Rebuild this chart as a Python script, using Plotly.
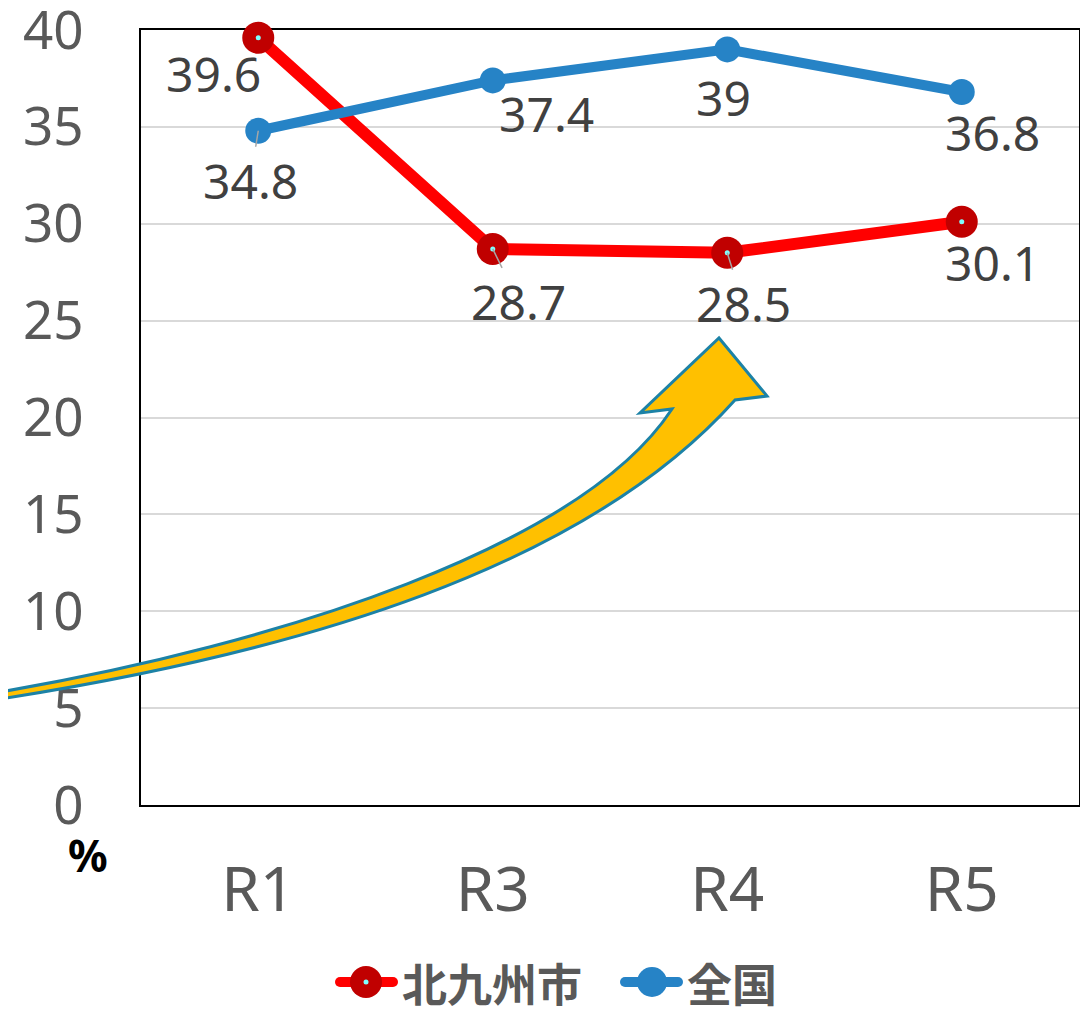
import plotly.graph_objects as go

# ---------------- data ----------------
categories = ["R1", "R3", "R4", "R5"]
series_names = ["北九州市", "全国"]
kitakyushu = [39.6, 28.7, 28.5, 30.1]
national = [34.8, 37.4, 39.0, 36.8]
y_ticks = [0, 5, 10, 15, 20, 25, 30, 35, 40]

# label offsets (pixels) relative to each point: (dx, dy_down, leader_line)
kita_label_off = [(-45, 36, False), (26, 53, True), (16, 51, True), (31, 41, False)]
nat_label_off = [(-8, 50, True), (54, 33, False), (-4, 48, False), (31, 40, False)]

# ---------------- layout geometry ----------------
# the page body has an 8px margin, so the figure starts at (8, 8) in the window
OFF = 8
W, H = 1080, 1001
PL, PR, PT, PB = 141, 1079, 30, 805          # plot area, window pixels
L, R, T, B = PL - OFF, W - (PR - OFF), PT - OFF, H - (PB - OFF)
PW = PR - PL
PH = PB - PT


def fx(px):
    return (px - PL) / PW


def fy(py):
    return (PB - py) / PH


RED = "#FF0000"
RED_MK = "#C00000"
BLUE = "#2683C6"
CYAN = "#7FFFFF"
GRAY_TXT = "#595959"
LABEL_TXT = "#404040"

xs = list(range(len(categories)))

fig = go.Figure()

fig.add_trace(go.Scatter(
    x=xs, y=kitakyushu, name=series_names[0], mode="lines+markers",
    line=dict(color=RED, width=12),
    marker=dict(color=RED_MK, size=32),
    cliponaxis=False, showlegend=False, hoverinfo="y",
))
fig.add_trace(go.Scatter(
    x=xs, y=kitakyushu, mode="markers",
    marker=dict(color=CYAN, size=5),
    cliponaxis=False, showlegend=False, hoverinfo="skip",
))
fig.add_trace(go.Scatter(
    x=xs, y=national, name=series_names[1], mode="lines+markers",
    line=dict(color=BLUE, width=10),
    marker=dict(color=BLUE, size=26),
    cliponaxis=False, showlegend=False, hoverinfo="y",
))

# ---------------- data labels ----------------
annotations = []
for series, offs in ((kitakyushu, kita_label_off), (national, nat_label_off)):
    for i, (v, (ox, oy, leader)) in enumerate(zip(series, offs)):
        txt = f"{v:g}"
        base = dict(x=xs[i], y=v, xref="x", yref="y", text=txt,
                    font=dict(family="Noto Sans", size=48, color=LABEL_TXT))
        if leader:
            annotations.append(dict(base, showarrow=True, ax=ox, ay=oy,
                                    arrowhead=0, arrowwidth=1.5,
                                    arrowcolor="#A6A6A6", standoff=0))
        else:
            annotations.append(dict(base, showarrow=False, xshift=ox, yshift=-oy,
                                    xanchor="center", yanchor="middle"))

# "%" unit label
annotations.append(dict(x=fx(88), y=fy(855), xref="paper", yref="paper",
                        text="<b>%</b>", showarrow=False,
                        font=dict(family="Noto Sans", size=44, color="#000000"),
                        xanchor="center", yanchor="middle"))

# ---------------- manual legend ----------------
legend_y = 982
legend_items = [
    # (name, line x0, line x1, marker cx, radius, line colour, marker colour, text x)
    (series_names[0], 340, 393, 366, 16, RED, RED_MK, 400),
    (series_names[1], 625, 678, 652, 15, BLUE, BLUE, 685),
]
shapes = []


def pix_circle(cx, cy, r, color):
    return dict(type="circle", xref="paper", yref="paper",
                xsizemode="pixel", ysizemode="pixel",
                xanchor=fx(cx), yanchor=fy(cy),
                x0=-r, x1=r, y0=-r, y1=r,
                fillcolor=color, line=dict(width=0))


for name, lx0, lx1, cx, r, lc, mc, tx in legend_items:
    shapes.append(dict(type="line", xref="paper", yref="paper",
                       x0=fx(lx0), x1=fx(lx1), y0=fy(legend_y), y1=fy(legend_y),
                       line=dict(color=lc, width=10)))
    shapes.append(pix_circle(lx0, legend_y, 5, lc))   # rounded line caps
    shapes.append(pix_circle(lx1, legend_y, 5, lc))
    shapes.append(pix_circle(cx, legend_y, r, mc))
    if name == series_names[0]:
        shapes.append(pix_circle(cx, legend_y, 2.5, CYAN))
    annotations.append(dict(x=fx(tx), y=fy(legend_y), xref="paper", yref="paper",
                            text=f"<b>{name}</b>", showarrow=False,
                            xanchor="left", yanchor="middle",
                            font=dict(family="Noto Sans CJK JP", size=45, color=GRAY_TXT)))

# ---------------- decorative curved arrow (cubic Bezier outline, window px) ----------------
arrow_upper = [(0, 692), (280, 644), (582, 546), (672, 409)]
arrow_head = [(640, 413), (719, 338), (767, 396), (735, 400)]
arrow_lower = [(735, 400), (585, 568), (300, 652), (0, 699)]


def P(pt):
    return f"{fx(pt[0]):.5f},{fy(pt[1]):.5f}"


path = f"M{P(arrow_upper[0])} C{P(arrow_upper[1])} {P(arrow_upper[2])} {P(arrow_upper[3])}"
for p in arrow_head:
    path += f" L{P(p)}"
path += f" C{P(arrow_lower[1])} {P(arrow_lower[2])} {P(arrow_lower[3])} Z"

shapes.append(dict(type="path", path=path, xref="paper", yref="paper",
                   fillcolor="#FFC000", line=dict(color="#1C82A6", width=3),
                   layer="above"))

fig.update_layout(
    width=W, height=H,
    margin=dict(l=L, r=R, t=T, b=B, pad=0, autoexpand=False),
    paper_bgcolor="white", plot_bgcolor="white",
    showlegend=False,
    shapes=shapes, annotations=annotations,
    xaxis=dict(
        range=[-0.5, len(categories) - 0.5],
        tickmode="array", tickvals=xs, ticktext=categories,
        showgrid=False, zeroline=False,
        showline=True, linecolor="black", linewidth=1.5, mirror=True,
        ticks="", ticklabelstandoff=30, ticklabeloverflow="allow",
        tickfont=dict(family="Noto Sans", size=62, color=GRAY_TXT),
        layer="below traces", fixedrange=True,
    ),
    yaxis=dict(
        range=[0, 40], tickmode="array", tickvals=y_ticks,
        showgrid=True, gridcolor="#D9D9D9", gridwidth=1.5, zeroline=False,
        showline=True, linecolor="black", linewidth=1.5, mirror=True,
        ticks="", ticklabelstandoff=45, ticklabeloverflow="allow",
        tickfont=dict(family="Noto Sans", size=53, color=GRAY_TXT),
        layer="below traces", fixedrange=True,
    ),
)

fig.write_html("out.html")
